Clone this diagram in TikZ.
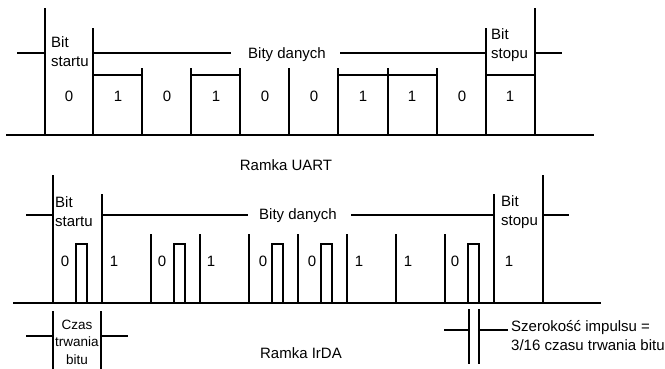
\documentclass[tikz,border=0pt]{standalone}
\usepackage{fontspec}
\setmainfont{Liberation Sans}
\begin{document}
\begin{tikzpicture}[x=1pt,y=-1pt,
  wave/.style={line width=2pt,line cap=rect},
  lbl/.style={inner sep=0pt,font=\fontsize{15}{19}\selectfont},
  lbll/.style={lbl,align=left,anchor=west},
  lblc/.style={lbl,align=center}]
\useasboundingbox (0,0) rectangle (665,368);
% ---------------- UART frame ----------------
\draw[wave] (7,135) -- (593,135);
\draw[wave] (18,53) -- (45,53);
\draw[wave] (45,9) -- (45,135);
\draw[wave] (93,29) -- (93,135);
\draw[wave] (93,53) -- (230,53);
\draw[wave] (341,53) -- (486,53);
\draw[wave] (486,29) -- (486,135);
\draw[wave] (535,9) -- (535,135);
\draw[wave] (535,53) -- (561,53);
\foreach \x in {142,191,240,289,338,388,437} \draw[wave] (\x,69) -- (\x,135);
\foreach \a/\b in {93/142,191/240,338/388,388/437,486/535} \draw[wave] (\a,75) -- (\b,75);
\node[lbl] (ud) at (287,55) {Bity danych};
\node[lbll] (ust) at (51,52) {Bit\\startu};
\node[lbll] (usp) at (491,45) {Bit\\stopu};
\foreach \x/\v [count=\k] in {69/0,118/1,167/0,216/1,265/0,314/0,363/1,412/1,462/0,510/1}
  \node[lbl] (ub\k) at (\x,96) {\v};
\node[lbl] (uart) at (286,165) {Ramka UART};
% ---------------- IrDA frame ----------------
\draw[wave] (14,303) -- (600,303);
\draw[wave] (27,215) -- (53,215);
\draw[wave] (53,176) -- (53,303);
\draw[wave] (102,195) -- (102,303);
\draw[wave] (102,215) -- (247,215);
\draw[wave] (352,215) -- (494,215);
\draw[wave] (494,195) -- (494,303);
\draw[wave] (543,176) -- (543,303);
\draw[wave] (543,215) -- (568,215);
\foreach \x in {151,200,249,298,347,396,445} \draw[wave] (\x,235) -- (\x,303);
\foreach \x in {53,151,249,298,445}
  \draw[wave] (\x+23,303) -- (\x+23,244) -- (\x+34,244) -- (\x+34,303);
\node[lbl] (id) at (298,216) {Bity danych};
\node[lbll] (ist) at (55,212) {Bit\\startu};
\node[lbll] (isp) at (501,212) {Bit\\stopu};
\foreach \x/\v [count=\k] in {65/0,114/1,162/0,211/1,263/0,312/0,359/1,408/1,455/0,509/1}
  \node[lbl] (ib\k) at (\x,261) {\v};
\node[lbl] (irda) at (301,353) {Ramka IrDA};
% ---------------- annotations ----------------
\draw[wave] (53,312) -- (53,368);
\draw[wave] (101,312) -- (101,368);
\draw[wave] (27,336) -- (53,336);
\draw[wave] (101,336) -- (127,336);
\node[lblc,font=\fontsize{13.5}{17.5}\selectfont] (czas) at (77,342) {Czas\\trwania\\bitu};
\draw[wave] (469,310) -- (469,363);
\draw[wave] (479,310) -- (479,363);
\draw[wave] (445,330) -- (469,330);
\draw[wave] (479,330) -- (507,330);
\node[lbll] (szer) at (511,336) {Szerokość impulsu =\\3/16 czasu trwania bitu};
\end{tikzpicture}
\end{document}
